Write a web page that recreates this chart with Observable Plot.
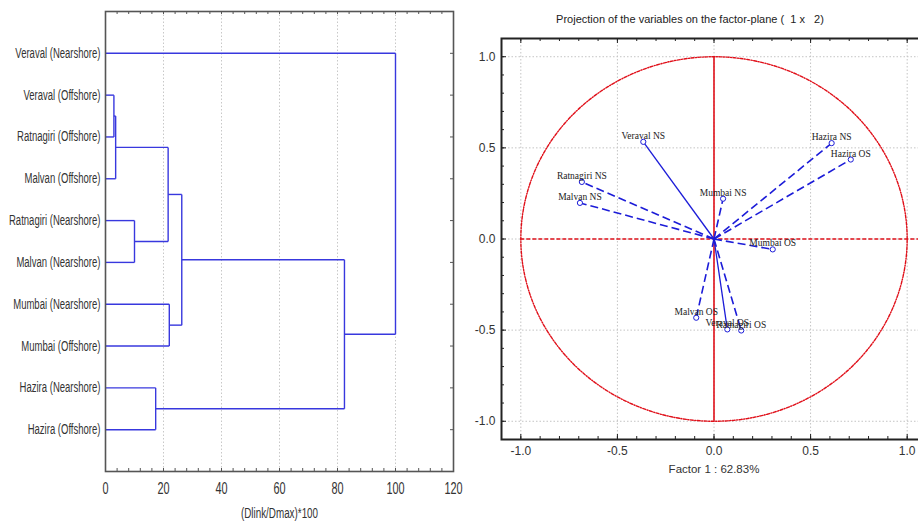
<!DOCTYPE html>
<html><head><meta charset="utf-8">
<script src="https://cdn.jsdelivr.net/npm/d3@7"></script>
<script src="https://cdn.jsdelivr.net/npm/@observablehq/plot@0.6"></script>
<style>
html,body{margin:0;padding:0;background:#fff;}
#wrap{position:relative;width:918px;height:527px;overflow:hidden;background:#fff;}
#left{position:absolute;left:0;top:0;width:465px;}
#right{position:absolute;left:460px;top:0;width:470px;}
#wrap svg{max-width:none !important;}
#title{position:absolute;left:490px;width:400px;top:13px;text-align:center;white-space:pre;font:11px "Liberation Sans",Arial,sans-serif;color:#222;}
</style></head><body>
<div id="wrap"><div id="left"></div><div id="right"></div><div id="title">Projection of the variables on the factor-plane (  1 x   2)</div></div>
<script>
// ---------- Dendrogram data ----------
const leaves = ["Veraval (Nearshore)","Veraval (Offshore)","Ratnagiri (Offshore)","Malvan (Offshore)",
  "Ratnagiri (Nearshore)","Malvan (Nearshore)","Mumbai (Nearshore)","Mumbai (Offshore)",
  "Hazira (Nearshore)","Hazira (Offshore)"];
// merges: indices < 10 are leaves, 10+k refers to merge k
const mergeA = [1, 10, 4, 8, 11, 6, 14, 16, 0];
const mergeB = [2, 3, 5, 9, 12, 7, 15, 13, 17];
const mergeDist = [2.9, 3.5, 10.0, 17.3, 21.6, 22.0, 26.3, 82.4, 100];
const distTicks = [0, 20, 40, 60, 80, 100, 120];

// ---------- PCA data ----------
const vars = ["Veraval NS","Ratnagiri NS","Malvan NS","Mumbai NS","Hazira NS","Hazira OS","Mumbai OS","Malvan OS","Veraval OS","Ratnagiri OS"];
const factor1 = [-0.366, -0.684, -0.694, 0.047, 0.609, 0.708, 0.304, -0.092, 0.069, 0.141];
const factor2 = [0.533, 0.313, 0.198, 0.221, 0.526, 0.436, -0.057, -0.432, -0.496, -0.502];
const factorTicks = [-1, -0.5, 0, 0.5, 1];
const xLabel2 = "Factor 1 : 62.83%";
const xLabel1 = "(Dlink/Dmax)*100";

// ---------- build dendrogram segments ----------
const nodes = leaves.map((name, i) => ({x: 0, y: i + 1}));
const segs = [];
mergeA.forEach((a, k) => {
  const A = nodes[a], B = nodes[mergeB[k]], d = mergeDist[k];
  segs.push({x1: A.x, y1: A.y, x2: d, y2: A.y});
  segs.push({x1: B.x, y1: B.y, x2: d, y2: B.y});
  segs.push({x1: d, y1: A.y, x2: d, y2: B.y});
  nodes.push({x: d, y: (A.y + B.y) / 2});
});

const W1 = 465, H1 = 527, mL1 = 105, mR1 = 12, mT1 = 11, mB1 = 56;
const pw1 = W1 - mL1 - mR1, ph1 = H1 - mT1 - mB1;
const blue1 = "#3838de";
const minor1 = d3.range(0, 121, 4);

const left = Plot.plot({
  width: W1, height: H1,
  marginLeft: mL1, marginRight: mR1, marginTop: mT1, marginBottom: mB1,
  style: {fontFamily: '"Liberation Sans",Arial,sans-serif', color: "#333", background: "transparent"},
  x: {domain: [0, 120]},
  y: {domain: [11, 0]},
  marks: [
    Plot.gridX([20, 40, 60, 80, 100], {stroke: "#c8c8c8", strokeOpacity: 1, strokeDasharray: "1.5,2"}),
    Plot.link(segs, {x1: "x1", y1: "y1", x2: "x2", y2: "y2", stroke: blue1, strokeWidth: 1.4}),
    Plot.tickX(minor1, {x: d => d, insetTop: ph1 - 3, stroke: "#555"}),
    Plot.tickX(minor1, {x: d => d, insetBottom: ph1 - 3, stroke: "#555"}),
    Plot.tickY(d3.range(1, 11), {y: d => d, insetLeft: pw1 - 3, stroke: "#555"}),
    Plot.frame({stroke: "#555", strokeWidth: 1.6}),
    Plot.axisX(distTicks, {tickSize: 0, tickPadding: 11, fontSize: 16, label: null, tickFormat: d => String(d)}),
    Plot.axisY(d3.range(1, 11), {tickSize: 0, tickPadding: 5, fontSize: 14, label: null, tickFormat: i => leaves[i - 1]}),
    Plot.text([xLabel1], {text: d => d, frameAnchor: "bottom", dy: 46, fontSize: 14.5, fill: "#333"})
  ]
});
// condense the left panel's texts horizontally (narrow typeface look)
const sx = 0.68;
left.querySelectorAll("text").forEach(t => {
  const tr = t.getAttribute("transform") || "";
  t.setAttribute("transform", `${tr} scale(${sx},1)`);
  const xa = t.getAttribute("x");
  if (xa !== null && isFinite(+xa)) t.setAttribute("x", +xa / sx);
});
document.getElementById("left").append(left);

// ---------- PCA plot ----------
const W2 = 470, H2 = 527, mL2 = 41, mR2 = 4, mT2 = 38, mB2 = 88;
const pw2 = W2 - mL2 - mR2, ph2 = H2 - mT2 - mB2;
const pts = vars.map((name, i) => ({name, f1: factor1[i], f2: factor2[i]}));
const solidNames = ["Veraval NS", "Veraval OS"];
const blue2 = "#1c1cd8";
const red = "#e0101a";
const minor2 = d3.range(-11, 12).map(d => d / 10);
const major2 = factorTicks;
const angles = d3.range(0, 361, 2).map(a => a * Math.PI / 180);

const right = Plot.plot({
  width: W2, height: H2,
  marginLeft: mL2, marginRight: mR2, marginTop: mT2, marginBottom: mB2,
  style: {fontFamily: '"Liberation Sans",Arial,sans-serif', color: "#333", background: "transparent"},
  x: {domain: [-1.1, 1.1]},
  y: {domain: [-1.1, 1.1]},
  marks: [
    Plot.gridX(factorTicks, {stroke: "#c4c4c4", strokeOpacity: 1, strokeDasharray: "1.5,2"}),
    Plot.gridY(factorTicks, {stroke: "#c4c4c4", strokeOpacity: 1, strokeDasharray: "1.5,2"}),
    Plot.line(angles, {x: a => Math.cos(a), y: a => Math.sin(a), stroke: red, strokeWidth: 1.4, strokeDasharray: "3,1.5,1,1.5"}),
    Plot.ruleX([0], {y1: -1, y2: 1, stroke: red, strokeWidth: 1.6}),
    Plot.ruleY([0], {x1: -1, x2: 1.1, stroke: red, strokeWidth: 1.4, strokeDasharray: "4,2"}),
    Plot.link(pts.filter(d => !solidNames.includes(d.name)), {x1: 0, y1: 0, x2: "f1", y2: "f2", stroke: blue2, strokeWidth: 1.6, strokeDasharray: "8,4"}),
    Plot.link(pts.filter(d => solidNames.includes(d.name)), {x1: 0, y1: 0, x2: "f1", y2: "f2", stroke: blue2, strokeWidth: 1.3}),
    Plot.dot(pts, {x: "f1", y: "f2", r: 2.6, stroke: blue2, fill: "white", strokeWidth: 1}),
    Plot.text(pts, {x: "f1", y: "f2", text: "name", dy: -6, fontSize: 9.5, fontFamily: '"Liberation Serif","Times New Roman",serif', fill: "#222"}),
    Plot.tickX(minor2, {x: d => d, insetTop: ph2 - 3, stroke: "#222"}),
    Plot.tickX(minor2, {x: d => d, insetBottom: ph2 - 3, stroke: "#222"}),
    Plot.tickX(major2, {x: d => d, insetTop: ph2 - 5, stroke: "#222"}),
    Plot.tickX(major2, {x: d => d, insetBottom: ph2 - 5, stroke: "#222"}),
    Plot.tickY(minor2, {y: d => d, insetRight: pw2 - 3, stroke: "#222"}),
    Plot.tickY(major2, {y: d => d, insetRight: pw2 - 5, stroke: "#222"}),
    Plot.frame({stroke: "#222", strokeWidth: 2}),
    Plot.axisX(factorTicks, {tickSize: 0, tickPadding: 7, fontSize: 12, label: null, tickFormat: d => d.toFixed(1)}),
    Plot.axisY(factorTicks, {tickSize: 0, tickPadding: 6, fontSize: 12, label: null, tickFormat: d => d.toFixed(1)}),
    Plot.text([xLabel2], {text: d => d, frameAnchor: "bottom", dy: 33, fontSize: 11.5, fill: "#333"})
  ]
});
document.getElementById("right").append(right);
</script>
</body></html>
